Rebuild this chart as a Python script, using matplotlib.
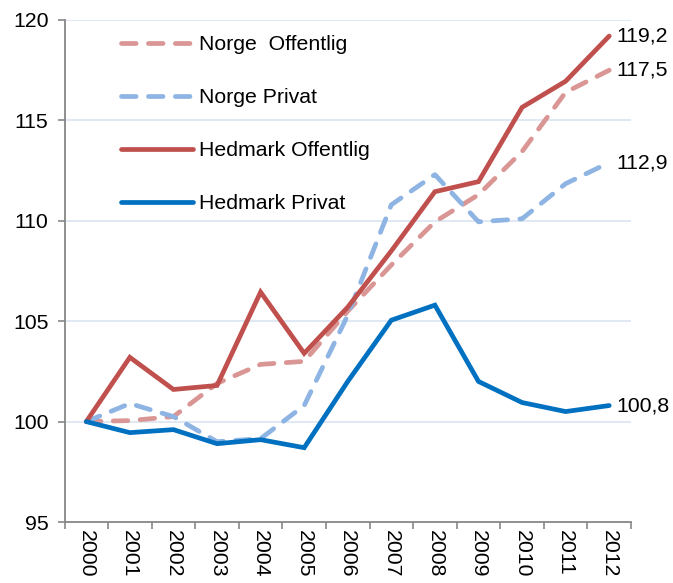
import matplotlib
matplotlib.use("Agg")
import matplotlib.pyplot as plt
import numpy as np

plt.rcParams['font.family'] = ['Liberation Sans', 'DejaVu Sans']

years = ["2000", "2001", "2002", "2003", "2004", "2005", "2006",
         "2007", "2008", "2009", "2010", "2011", "2012"]
norge_offentlig = [100.0, 100.05, 100.25, 101.9, 102.85, 103.0, 105.5,
                   107.8, 109.95, 111.3, 113.45, 116.4, 117.5]
norge_privat = [100.0, 100.9, 100.25, 99.0, 99.15, 100.8, 105.3,
                110.8, 112.3, 109.95, 110.1, 111.85, 112.9]
hedmark_offentlig = [100.0, 103.2, 101.6, 101.8, 106.45, 103.4, 105.7,
                     108.5, 111.45, 111.95, 115.65, 116.95, 119.2]
hedmark_privat = [100.0, 99.45, 99.6, 98.9, 99.1, 98.7, 102.0,
                  105.05, 105.8, 102.0, 100.95, 100.5, 100.8]
end_labels = ["117,5", "112,9", "119,2", "100,8"]

FS = 15.3
fig = plt.figure(figsize=(6.73, 5.83), dpi=100)
ax = fig.add_axes([64.5/673, 1-522/583, (631-64.5)/673, (522-20)/583])

x = np.arange(len(years))
lw = 3.4
dash = (0, (3.1, 2.6))
l1, = ax.plot(x, norge_offentlig, color='#D99694', lw=lw, ls=dash,
              dash_capstyle='round', solid_capstyle='round', label='Norge  Offentlig', zorder=3)
l2, = ax.plot(x, norge_privat, color='#8EB4E3', lw=lw, ls=dash,
              dash_capstyle='round', solid_capstyle='round', label='Norge Privat', zorder=3)
l3, = ax.plot(x, hedmark_offentlig, color='#C0504D', lw=lw,
              solid_capstyle='round', solid_joinstyle='miter', label='Hedmark Offentlig', zorder=4)
l4, = ax.plot(x, hedmark_privat, color='#0070C0', lw=lw,
              solid_capstyle='round', solid_joinstyle='miter', label='Hedmark Privat', zorder=4)

series = [norge_offentlig, norge_privat, hedmark_offentlig, hedmark_privat]
for s, lab in zip(series, end_labels):
    ax.annotate(lab, xy=(x[-1], s[-1]), xytext=(5, 0), textcoords='offset points',
                va='center', ha='left', fontsize=FS, annotation_clip=False)

ax.set_xlim(-0.5, 12.5)
ax.set_ylim(95, 120)
ax.set_yticks([95, 100, 105, 110, 115, 120])
ax.set_xticks(x)
ax.set_xticklabels(years, rotation=270, fontsize=FS)
ax.set_xticks(np.arange(-0.5, 13, 1), minor=True)
ax.tick_params(axis='x', which='major', length=0, pad=6)
ax.tick_params(axis='x', which='minor', length=5, width=1.2, color='#878787', direction='out')
ax.tick_params(axis='y', length=5, width=1.2, color='#878787', labelsize=FS, pad=6.5)

for yv in [100, 105, 110, 115, 120]:
    ax.axhline(yv, color='#DCE6F2', lw=1.3, zorder=1)

for side in ['top', 'right']:
    ax.spines[side].set_visible(False)
for side in ['left', 'bottom']:
    ax.spines[side].set_color('#878787')
    ax.spines[side].set_linewidth(1.3)

leg = ax.legend(handles=[l1, l2, l3, l4], loc='upper left',
                bbox_to_anchor=(0.1, 0.97), frameon=False, fontsize=FS,
                handlelength=3.4, handletextpad=0.25, labelspacing=1.6,
                borderpad=0, borderaxespad=0)

fig.savefig('out.png', dpi=100)
